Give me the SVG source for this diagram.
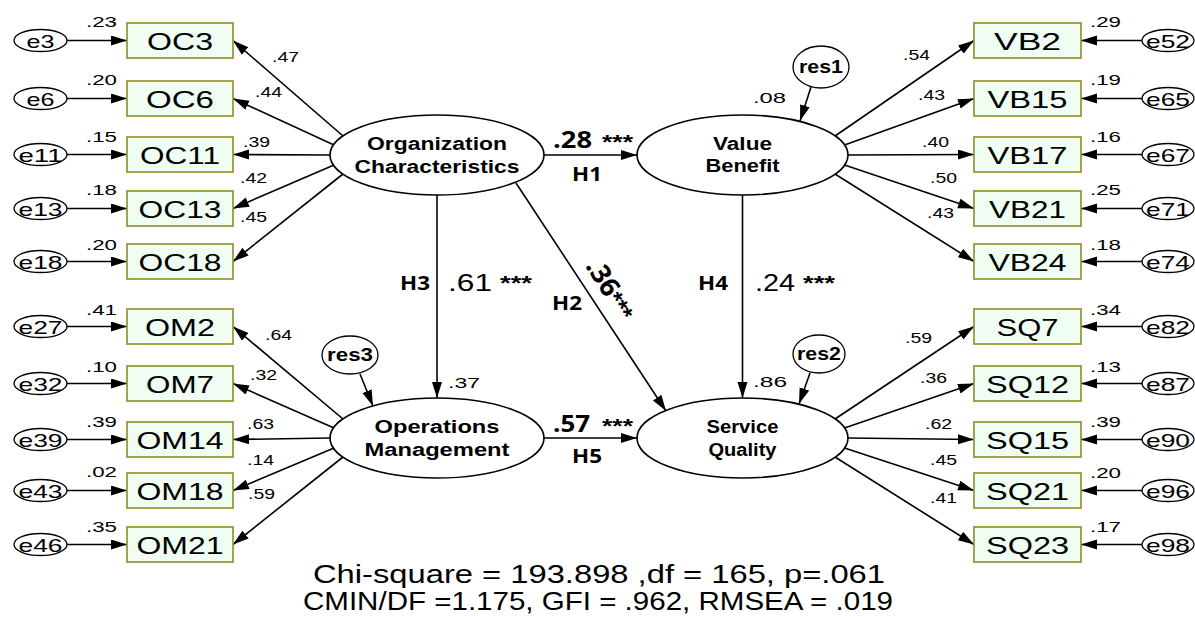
<svg xmlns="http://www.w3.org/2000/svg" width="1195" height="617" viewBox="0 0 1195 617">
<defs>
<marker id="ah" markerUnits="userSpaceOnUse" markerWidth="17" markerHeight="11" refX="16" refY="5" orient="auto"><path d="M0,0 L16,5 L0,10 z" fill="#000"/></marker>
<style>
.box{fill:#effdf3;stroke:#9b9a3a;stroke-width:1.8}
.lat{fill:#fff;stroke:#000;stroke-width:1.6}
.err{fill:#fff;stroke:#000;stroke-width:1.3}
.c{stroke:#000;stroke-width:1.6;fill:none;marker-end:url(#ah)}
text{font-family:"Liberation Sans",Arial,sans-serif;fill:#000}
.bl{font-size:24px;text-anchor:middle}
.el{font-size:19px;text-anchor:middle}
.ll{font-size:14px}
.vl{font-size:15px}
.lt{font-size:18px;font-weight:bold;text-anchor:middle}
.rl{font-size:18px;font-weight:bold;text-anchor:middle}
.h{font-family:"Open Sans",sans-serif;font-weight:bold;font-size:20px}
.pc{font-family:"Open Sans",sans-serif;font-weight:bold;font-size:23px}
.st{font-weight:bold;font-size:20px}
.big{font-size:24px}
.fit{font-size:25px;text-anchor:middle}
</style>
</defs>
<rect width="1195" height="617" fill="#fff"/>

<g id="connectors">
<path class="c" d="M67,40.5 L127,40.5"/>
<path class="c" d="M67,98.5 L127,98.5"/>
<path class="c" d="M67,154.5 L127,154.5"/>
<path class="c" d="M67,208.5 L127,208.5"/>
<path class="c" d="M67,261.5 L127,261.5"/>
<path class="c" d="M67,326.5 L127,326.5"/>
<path class="c" d="M67,383.5 L127,383.5"/>
<path class="c" d="M67,439.5 L127,439.5"/>
<path class="c" d="M67,490.5 L127,490.5"/>
<path class="c" d="M67,544.5 L127,544.5"/>
<path class="c" d="M1142,40.5 L1081,40.5"/>
<path class="c" d="M1142,98.5 L1081,98.5"/>
<path class="c" d="M1142,154.5 L1081,154.5"/>
<path class="c" d="M1142,208.5 L1081,208.5"/>
<path class="c" d="M1142,261.5 L1081,261.5"/>
<path class="c" d="M1142,326.5 L1081,326.5"/>
<path class="c" d="M1142,383.5 L1081,383.5"/>
<path class="c" d="M1142,439.5 L1081,439.5"/>
<path class="c" d="M1142,490.5 L1081,490.5"/>
<path class="c" d="M1142,544.5 L1081,544.5"/>
<path class="c" d="M343,136 L233,40.5"/>
<path class="c" d="M334,145 L233,98.5"/>
<path class="c" d="M330,155 L233,154.5"/>
<path class="c" d="M334,165 L233,208.5"/>
<path class="c" d="M343,174 L233,261.5"/>
<path class="c" d="M343,419 L233,326.5"/>
<path class="c" d="M334,428 L233,383.5"/>
<path class="c" d="M330,438 L233,439.5"/>
<path class="c" d="M334,448 L233,490.5"/>
<path class="c" d="M343,457 L233,544.5"/>
<path class="c" d="M835,136 L974,40.5"/>
<path class="c" d="M844.5,145 L974,98.5"/>
<path class="c" d="M848,155 L974,154.5"/>
<path class="c" d="M844.5,165 L974,208.5"/>
<path class="c" d="M835,174 L974,261.5"/>
<path class="c" d="M835,419 L974,326.5"/>
<path class="c" d="M844.5,428 L974,383.5"/>
<path class="c" d="M848,438 L974,439.5"/>
<path class="c" d="M844.5,448 L974,490.5"/>
<path class="c" d="M835,457 L974,544.5"/>
<path class="c" d="M544,155 L637,155"/>
<path class="c" d="M437,195 L437,398"/>
<path class="c" d="M516,183 L666,411"/>
<path class="c" d="M742.5,195 L742.5,398"/>
<path class="c" d="M544,438 L637,438"/>
<path class="c" d="M811,87 L800,121"/>
<path class="c" d="M360,374 L373,406"/>
<path class="c" d="M810,373 L799,404"/>

<text class="ll" x="272" y="62" textLength="27" lengthAdjust="spacingAndGlyphs">.47</text>
<text class="ll" x="255" y="97" textLength="27" lengthAdjust="spacingAndGlyphs">.44</text>
<text class="ll" x="243" y="147" textLength="27" lengthAdjust="spacingAndGlyphs">.39</text>
<text class="ll" x="240" y="183" textLength="27" lengthAdjust="spacingAndGlyphs">.42</text>
<text class="ll" x="240" y="222" textLength="27" lengthAdjust="spacingAndGlyphs">.45</text>
<text class="ll" x="265" y="340" textLength="27" lengthAdjust="spacingAndGlyphs">.64</text>
<text class="ll" x="250" y="380" textLength="27" lengthAdjust="spacingAndGlyphs">.32</text>
<text class="ll" x="247" y="429" textLength="27" lengthAdjust="spacingAndGlyphs">.63</text>
<text class="ll" x="247" y="465" textLength="27" lengthAdjust="spacingAndGlyphs">.14</text>
<text class="ll" x="248" y="499" textLength="27" lengthAdjust="spacingAndGlyphs">.59</text>
<text class="ll" x="903" y="60" textLength="27" lengthAdjust="spacingAndGlyphs">.54</text>
<text class="ll" x="918" y="100" textLength="27" lengthAdjust="spacingAndGlyphs">.43</text>
<text class="ll" x="922" y="147" textLength="27" lengthAdjust="spacingAndGlyphs">.40</text>
<text class="ll" x="930" y="183" textLength="27" lengthAdjust="spacingAndGlyphs">.50</text>
<text class="ll" x="927" y="218" textLength="27" lengthAdjust="spacingAndGlyphs">.43</text>
<text class="ll" x="905" y="343" textLength="27" lengthAdjust="spacingAndGlyphs">.59</text>
<text class="ll" x="920" y="383" textLength="27" lengthAdjust="spacingAndGlyphs">.36</text>
<text class="ll" x="925" y="429" textLength="27" lengthAdjust="spacingAndGlyphs">.62</text>
<text class="ll" x="930" y="465" textLength="27" lengthAdjust="spacingAndGlyphs">.45</text>
<text class="ll" x="930" y="503" textLength="27" lengthAdjust="spacingAndGlyphs">.41</text>

<text class="pc" x="553" y="148" textLength="39" lengthAdjust="spacingAndGlyphs">.28</text>
<text class="st" x="602" y="149" textLength="31" lengthAdjust="spacingAndGlyphs">***</text>
<text class="h" x="572" y="181" textLength="30" lengthAdjust="spacingAndGlyphs">H1</text>
<text class="h" x="400" y="290" textLength="30" lengthAdjust="spacingAndGlyphs">H3</text>
<text class="big" x="448" y="291" textLength="44" lengthAdjust="spacingAndGlyphs">.61</text>
<text class="st" x="500" y="290" textLength="32" lengthAdjust="spacingAndGlyphs">***</text>
<text class="h" x="552" y="310" textLength="30" lengthAdjust="spacingAndGlyphs">H2</text>
<text transform="translate(585,266) rotate(58)"><tspan class="pc" style="font-size:27px">.36</tspan><tspan class="st" style="font-size:24px">***</tspan></text>
<text class="h" x="698" y="290" textLength="30" lengthAdjust="spacingAndGlyphs">H4</text>
<text class="big" x="755" y="291" textLength="40" lengthAdjust="spacingAndGlyphs">.24</text>
<text class="st" x="803" y="290" textLength="32" lengthAdjust="spacingAndGlyphs">***</text>
<text class="pc" x="553" y="432" textLength="37" lengthAdjust="spacingAndGlyphs">.57</text>
<text class="st" x="602" y="433" textLength="31" lengthAdjust="spacingAndGlyphs">***</text>
<text class="h" x="572" y="463" textLength="30" lengthAdjust="spacingAndGlyphs">H5</text>
<text class="vl" x="753" y="103" textLength="33" lengthAdjust="spacingAndGlyphs">.08</text>
<text class="vl" x="448" y="388" textLength="32" lengthAdjust="spacingAndGlyphs">.37</text>
<text class="vl" x="753" y="387" textLength="34" lengthAdjust="spacingAndGlyphs">.86</text>
</g>

<g id="e3"><ellipse class="err" cx="40.5" cy="40.5" rx="26.5" ry="11"/><text class="el" x="40.5" y="47.5" textLength="28" lengthAdjust="spacingAndGlyphs">e3</text><text class="vl" x="86" y="27" textLength="31" lengthAdjust="spacingAndGlyphs">.23</text></g>
<g id="e6"><ellipse class="err" cx="40.5" cy="98.5" rx="26.5" ry="11"/><text class="el" x="40.5" y="105.5" textLength="28" lengthAdjust="spacingAndGlyphs">e6</text><text class="vl" x="86" y="85" textLength="31" lengthAdjust="spacingAndGlyphs">.20</text></g>
<g id="e11"><ellipse class="err" cx="40.5" cy="154.5" rx="26.5" ry="11"/><text class="el" x="40.5" y="161.5" textLength="44" lengthAdjust="spacingAndGlyphs">e11</text><text class="vl" x="86" y="142" textLength="31" lengthAdjust="spacingAndGlyphs">.15</text></g>
<g id="e13"><ellipse class="err" cx="40.5" cy="208.5" rx="26.5" ry="11"/><text class="el" x="40.5" y="215.5" textLength="44" lengthAdjust="spacingAndGlyphs">e13</text><text class="vl" x="86" y="195" textLength="31" lengthAdjust="spacingAndGlyphs">.18</text></g>
<g id="e18"><ellipse class="err" cx="40.5" cy="261.5" rx="26.5" ry="11"/><text class="el" x="40.5" y="268.5" textLength="44" lengthAdjust="spacingAndGlyphs">e18</text><text class="vl" x="86" y="250" textLength="31" lengthAdjust="spacingAndGlyphs">.20</text></g>
<g id="e27"><ellipse class="err" cx="40.5" cy="326.5" rx="26.5" ry="11"/><text class="el" x="40.5" y="333.5" textLength="44" lengthAdjust="spacingAndGlyphs">e27</text><text class="vl" x="86" y="315" textLength="31" lengthAdjust="spacingAndGlyphs">.41</text></g>
<g id="e32"><ellipse class="err" cx="40.5" cy="383.5" rx="26.5" ry="11"/><text class="el" x="40.5" y="390.5" textLength="44" lengthAdjust="spacingAndGlyphs">e32</text><text class="vl" x="86" y="372" textLength="31" lengthAdjust="spacingAndGlyphs">.10</text></g>
<g id="e39"><ellipse class="err" cx="40.5" cy="439.5" rx="26.5" ry="11"/><text class="el" x="40.5" y="446.5" textLength="44" lengthAdjust="spacingAndGlyphs">e39</text><text class="vl" x="86" y="427" textLength="31" lengthAdjust="spacingAndGlyphs">.39</text></g>
<g id="e43"><ellipse class="err" cx="40.5" cy="490.5" rx="26.5" ry="11"/><text class="el" x="40.5" y="497.5" textLength="44" lengthAdjust="spacingAndGlyphs">e43</text><text class="vl" x="86" y="477" textLength="31" lengthAdjust="spacingAndGlyphs">.02</text></g>
<g id="e46"><ellipse class="err" cx="40.5" cy="544.5" rx="26.5" ry="11"/><text class="el" x="40.5" y="551.5" textLength="44" lengthAdjust="spacingAndGlyphs">e46</text><text class="vl" x="86" y="532" textLength="31" lengthAdjust="spacingAndGlyphs">.35</text></g>

<g id="e52"><ellipse class="err" cx="1168" cy="40.5" rx="26" ry="11"/><text class="el" x="1168" y="47.5" textLength="44" lengthAdjust="spacingAndGlyphs">e52</text><text class="vl" x="1090" y="27" textLength="31" lengthAdjust="spacingAndGlyphs">.29</text></g>
<g id="e65"><ellipse class="err" cx="1168" cy="98.5" rx="26" ry="11"/><text class="el" x="1168" y="105.5" textLength="44" lengthAdjust="spacingAndGlyphs">e65</text><text class="vl" x="1090" y="85" textLength="31" lengthAdjust="spacingAndGlyphs">.19</text></g>
<g id="e67"><ellipse class="err" cx="1168" cy="154.5" rx="26" ry="11"/><text class="el" x="1168" y="161.5" textLength="44" lengthAdjust="spacingAndGlyphs">e67</text><text class="vl" x="1090" y="142" textLength="31" lengthAdjust="spacingAndGlyphs">.16</text></g>
<g id="e71"><ellipse class="err" cx="1168" cy="208.5" rx="26" ry="11"/><text class="el" x="1168" y="215.5" textLength="44" lengthAdjust="spacingAndGlyphs">e71</text><text class="vl" x="1090" y="195" textLength="31" lengthAdjust="spacingAndGlyphs">.25</text></g>
<g id="e74"><ellipse class="err" cx="1168" cy="261.5" rx="26" ry="11"/><text class="el" x="1168" y="268.5" textLength="44" lengthAdjust="spacingAndGlyphs">e74</text><text class="vl" x="1090" y="250" textLength="31" lengthAdjust="spacingAndGlyphs">.18</text></g>
<g id="e82"><ellipse class="err" cx="1168" cy="326.5" rx="26" ry="11"/><text class="el" x="1168" y="333.5" textLength="44" lengthAdjust="spacingAndGlyphs">e82</text><text class="vl" x="1090" y="315" textLength="31" lengthAdjust="spacingAndGlyphs">.34</text></g>
<g id="e87"><ellipse class="err" cx="1168" cy="383.5" rx="26" ry="11"/><text class="el" x="1168" y="390.5" textLength="44" lengthAdjust="spacingAndGlyphs">e87</text><text class="vl" x="1090" y="372" textLength="31" lengthAdjust="spacingAndGlyphs">.13</text></g>
<g id="e90"><ellipse class="err" cx="1168" cy="439.5" rx="26" ry="11"/><text class="el" x="1168" y="446.5" textLength="44" lengthAdjust="spacingAndGlyphs">e90</text><text class="vl" x="1090" y="427" textLength="31" lengthAdjust="spacingAndGlyphs">.39</text></g>
<g id="e96"><ellipse class="err" cx="1168" cy="490.5" rx="26" ry="11"/><text class="el" x="1168" y="497.5" textLength="44" lengthAdjust="spacingAndGlyphs">e96</text><text class="vl" x="1090" y="478" textLength="31" lengthAdjust="spacingAndGlyphs">.20</text></g>
<g id="e98"><ellipse class="err" cx="1168" cy="544.5" rx="26" ry="11"/><text class="el" x="1168" y="551.5" textLength="44" lengthAdjust="spacingAndGlyphs">e98</text><text class="vl" x="1090" y="532" textLength="31" lengthAdjust="spacingAndGlyphs">.17</text></g>

<g id="OC3"><rect class="box" x="127" y="23" width="106" height="35"/><text class="bl" x="180" y="49.5" textLength="66" lengthAdjust="spacingAndGlyphs">OC3</text></g>
<g id="OC6"><rect class="box" x="127" y="81" width="106" height="35"/><text class="bl" x="180" y="107.5" textLength="68" lengthAdjust="spacingAndGlyphs">OC6</text></g>
<g id="OC11"><rect class="box" x="127" y="137" width="106" height="35"/><text class="bl" x="180" y="163.5" textLength="80" lengthAdjust="spacingAndGlyphs">OC11</text></g>
<g id="OC13"><rect class="box" x="127" y="191" width="106" height="35"/><text class="bl" x="180" y="217.5" textLength="83" lengthAdjust="spacingAndGlyphs">OC13</text></g>
<g id="OC18"><rect class="box" x="127" y="244" width="106" height="35"/><text class="bl" x="180" y="270.5" textLength="83" lengthAdjust="spacingAndGlyphs">OC18</text></g>
<g id="OM2"><rect class="box" x="127" y="309" width="106" height="35"/><text class="bl" x="180" y="335.5" textLength="70" lengthAdjust="spacingAndGlyphs">OM2</text></g>
<g id="OM7"><rect class="box" x="127" y="366" width="106" height="35"/><text class="bl" x="180" y="392.5" textLength="68" lengthAdjust="spacingAndGlyphs">OM7</text></g>
<g id="OM14"><rect class="box" x="127" y="422" width="106" height="35"/><text class="bl" x="180" y="448.5" textLength="87" lengthAdjust="spacingAndGlyphs">OM14</text></g>
<g id="OM18"><rect class="box" x="127" y="473" width="106" height="35"/><text class="bl" x="180" y="499.5" textLength="87" lengthAdjust="spacingAndGlyphs">OM18</text></g>
<g id="OM21"><rect class="box" x="127" y="527" width="106" height="35"/><text class="bl" x="180" y="553.5" textLength="87" lengthAdjust="spacingAndGlyphs">OM21</text></g>

<g id="VB2"><rect class="box" x="974" y="23" width="107" height="35"/><text class="bl" x="1027.5" y="49.5" textLength="67" lengthAdjust="spacingAndGlyphs">VB2</text></g>
<g id="VB15"><rect class="box" x="974" y="81" width="107" height="35"/><text class="bl" x="1027.5" y="107.5" textLength="80" lengthAdjust="spacingAndGlyphs">VB15</text></g>
<g id="VB17"><rect class="box" x="974" y="137" width="107" height="35"/><text class="bl" x="1027.5" y="163.5" textLength="80" lengthAdjust="spacingAndGlyphs">VB17</text></g>
<g id="VB21"><rect class="box" x="974" y="191" width="107" height="35"/><text class="bl" x="1027.5" y="217.5" textLength="77" lengthAdjust="spacingAndGlyphs">VB21</text></g>
<g id="VB24"><rect class="box" x="974" y="244" width="107" height="35"/><text class="bl" x="1027.5" y="270.5" textLength="78" lengthAdjust="spacingAndGlyphs">VB24</text></g>
<g id="SQ7"><rect class="box" x="974" y="309" width="107" height="35"/><text class="bl" x="1027.5" y="335.5" textLength="62" lengthAdjust="spacingAndGlyphs">SQ7</text></g>
<g id="SQ12"><rect class="box" x="974" y="366" width="107" height="35"/><text class="bl" x="1027.5" y="392.5" textLength="83" lengthAdjust="spacingAndGlyphs">SQ12</text></g>
<g id="SQ15"><rect class="box" x="974" y="422" width="107" height="35"/><text class="bl" x="1027.5" y="448.5" textLength="83" lengthAdjust="spacingAndGlyphs">SQ15</text></g>
<g id="SQ21"><rect class="box" x="974" y="473" width="107" height="35"/><text class="bl" x="1027.5" y="499.5" textLength="83" lengthAdjust="spacingAndGlyphs">SQ21</text></g>
<g id="SQ23"><rect class="box" x="974" y="527" width="107" height="35"/><text class="bl" x="1027.5" y="553.5" textLength="83" lengthAdjust="spacingAndGlyphs">SQ23</text></g>

<g id="OC"><ellipse class="lat" cx="437" cy="155" rx="107" ry="40"/><text class="lt" x="437" y="150" textLength="140" lengthAdjust="spacingAndGlyphs">Organization</text><text class="lt" x="437" y="173" textLength="165" lengthAdjust="spacingAndGlyphs">Characteristics</text></g>
<g id="VB"><ellipse class="lat" cx="742.5" cy="155" rx="105.5" ry="40"/><text class="lt" x="742.5" y="150" textLength="59" lengthAdjust="spacingAndGlyphs">Value</text><text class="lt" x="742.5" y="172" textLength="74" lengthAdjust="spacingAndGlyphs">Benefit</text></g>
<g id="OM"><ellipse class="lat" cx="437" cy="438" rx="107" ry="40"/><text class="lt" x="437" y="433" textLength="125" lengthAdjust="spacingAndGlyphs">Operations</text><text class="lt" x="437" y="456" textLength="145" lengthAdjust="spacingAndGlyphs">Management</text></g>
<g id="SQ"><ellipse class="lat" cx="742.5" cy="438" rx="105.5" ry="40"/><text class="lt" x="742.5" y="433" textLength="72" lengthAdjust="spacingAndGlyphs">Service</text><text class="lt" x="742.5" y="456" textLength="68" lengthAdjust="spacingAndGlyphs">Quality</text></g>

<g id="res1"><ellipse class="err" cx="821" cy="67" rx="28" ry="21"/><text class="rl" x="821" y="73" textLength="44" lengthAdjust="spacingAndGlyphs">res1</text></g>
<g id="res3"><ellipse class="err" cx="350" cy="355" rx="28" ry="19"/><text class="rl" x="350" y="361" textLength="46" lengthAdjust="spacingAndGlyphs">res3</text></g>
<g id="res2"><ellipse class="err" cx="819" cy="354" rx="26" ry="19"/><text class="rl" x="819" y="360" textLength="44" lengthAdjust="spacingAndGlyphs">res2</text></g>

<g id="fit">
<text class="fit" x="599" y="583" textLength="572" lengthAdjust="spacingAndGlyphs">Chi-square = 193.898 ,df = 165, p=.061</text>
<text class="fit" x="598" y="610" textLength="590" lengthAdjust="spacingAndGlyphs">CMIN/DF =1.175, GFI = .962, RMSEA = .019</text>
</g>
</svg>
